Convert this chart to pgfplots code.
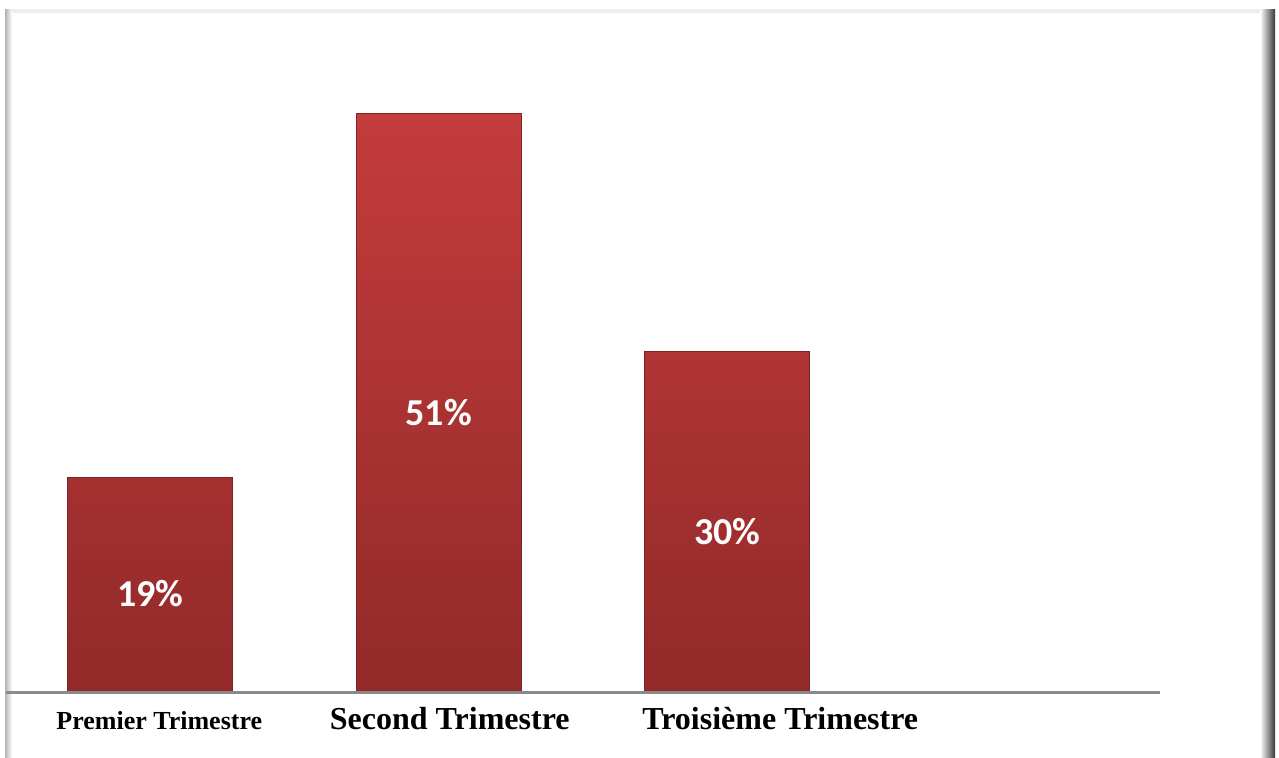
\documentclass[border=0pt]{standalone}
\usepackage{pgfplots}
\pgfplotsset{compat=1.18}
\usepackage{fontspec}
\setmainfont{Liberation Serif}
\newfontfamily\calibri{Carlito}

\definecolor{barTop}{RGB}{196,60,60}
\definecolor{barBot}{RGB}{146,41,41}
\definecolor{barEdge}{RGB}{128,34,34}
\definecolor{baseGray}{RGB}{138,138,138}

\begin{document}
\begin{tikzpicture}
% page frame, 1 unit = 0.5pt
\begin{scope}[x=0.5pt,y=0.5pt]
  \useasboundingbox (0,0) rectangle (1279,758);
  \fill[gray!14] (5,745) rectangle (1270,749);
  \fill[left color=gray!60, right color=white] (5,0) rectangle (12,748);
  \fill[left color=white, right color=black!78] (1260,0) rectangle (1275,748);
\end{scope}

\begin{axis}[
  scale only axis,
  width=577pt, height=341pt,
  anchor=south west, at={(3pt,32.5pt)},
  xmin=-0.5, xmax=3.5, ymin=0, ymax=60,
  axis x line*=bottom, axis y line=none,
  x axis line style={baseGray, line width=1.5pt},
  axis on top,
  ytick=\empty,
  xtick={0,1,2},
  major tick length=0pt,
  xticklabels={
    {\fontsize{13}{15}\selectfont\bfseries\hspace*{9pt}Premier Trimestre},
    {\fontsize{16}{19}\selectfont\bfseries\hspace*{11pt}Second Trimestre},
    {\fontsize{16}{19}\selectfont\bfseries\hspace*{53pt}Troisième Trimestre}},
  xticklabel style={anchor=base, yshift=-18.5pt},
  ybar, bar width=82.5pt,
  clip=false,
  visualization depends on={y \as \rawy},
  nodes near coords={\calibri\bfseries\pgfmathprintnumber[assume math mode=true]{\pgfplotspointmeta}\%},
  nodes near coords style={anchor=center, text=white,
    font=\fontsize{19}{22}\selectfont,
    shift={(axis direction cs:0,-\rawy/2)}, yshift=-4.5pt},
]
\addplot[draw=barEdge, line width=0.5pt, top color=barTop, bottom color=barBot]
  coordinates {(0,19) (1,51) (2,30)};
\end{axis}
\end{tikzpicture}
\end{document}
